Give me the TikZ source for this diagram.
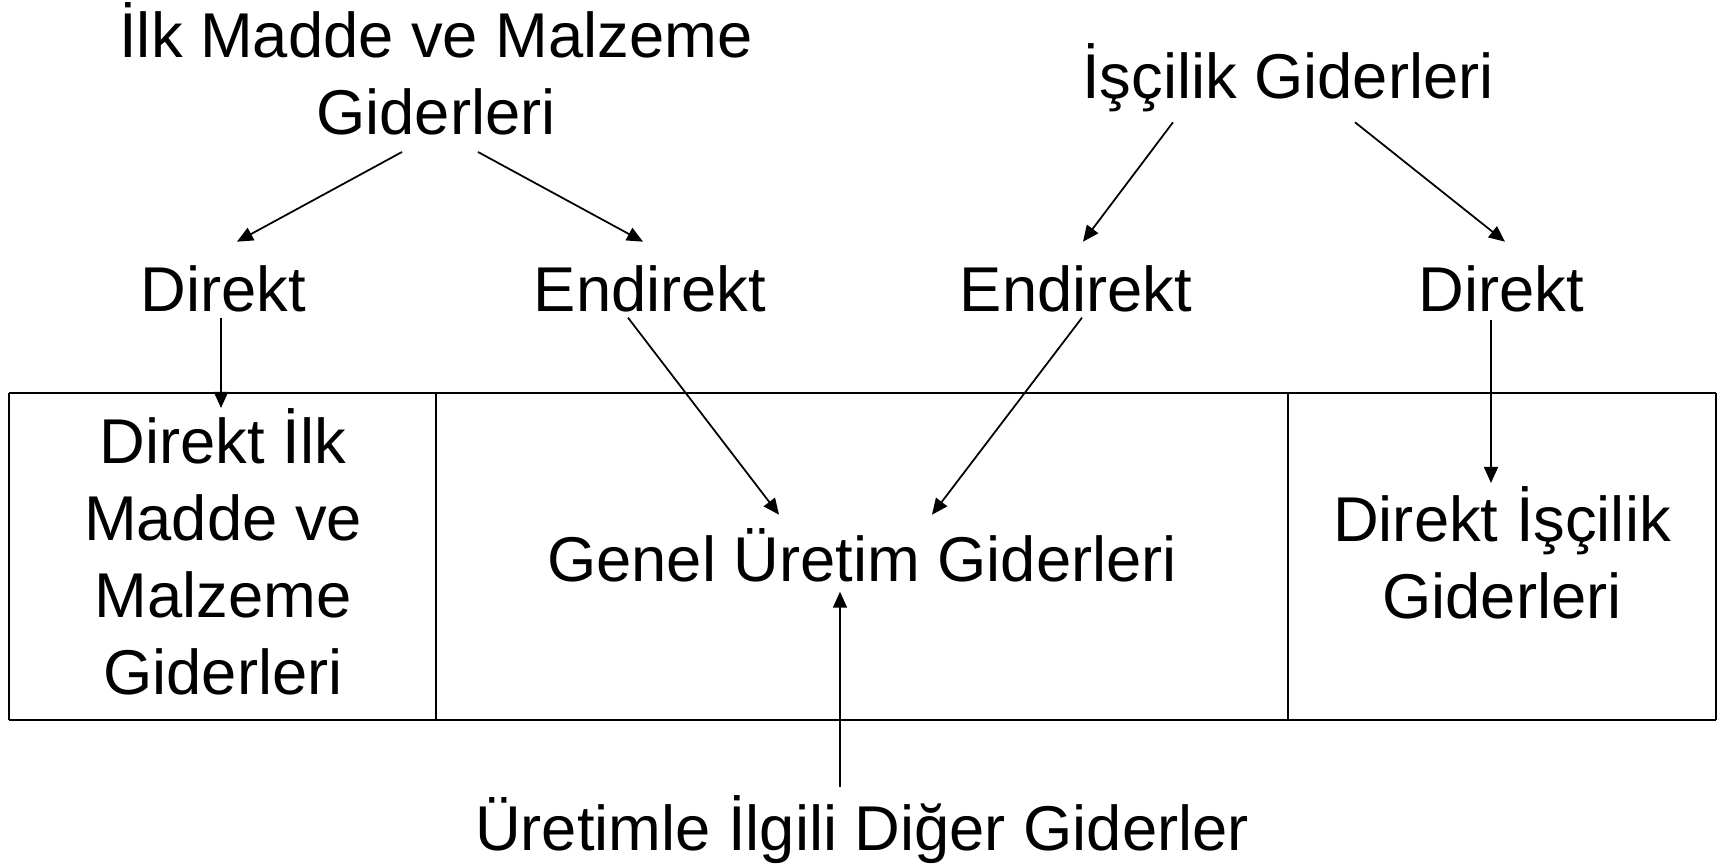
\documentclass[tikz,border=0pt]{standalone}
\usepackage{fontspec}
\setmainfont{Liberation Sans}
\usetikzlibrary{calc,arrows.meta}

\begin{document}
\begin{tikzpicture}[x=0.01cm,y=-0.01cm,
        lbl/.style={inner sep=0pt,font=\fontsize{18}{21.9}\selectfont,align=center},
        arr/.style={line width=0.5pt,-{Triangle[length=0.16cm,width=0.14cm]}}]
        \useasboundingbox (0,0) rectangle (1729,868);
        \node[lbl,anchor=south] (ilk) at (436,136) {İlk Madde ve Malzeme\\Giderleri};
        \node[lbl,anchor=base] (isc) at (1288,98.3) {İşçilik Giderleri};
        \node[lbl,anchor=base] (dirA) at (223,311.7) {Direkt};
        \node[lbl,anchor=base] (endA) at (650,311.7) {Endirekt};
        \node[lbl,anchor=base] (endB) at (1076,311.7) {Endirekt};
        \node[lbl,anchor=base] (dirB) at (1501,311.7) {Direkt};
        \draw[line width=0.5pt] (9,393) -- (9,720) (1716,393) -- (1716,720);
        \draw[line width=0.75pt] (9,393) -- (1716,393) (9,720) -- (1716,720);
        \foreach \x in {436,1288}
            \draw[line width=0.5pt] (\x,393) -- (\x,720);
        \node[lbl,anchor=south] (colA) at (223,696) {Direkt İlk\\Madde ve\\Malzeme\\Giderleri};
        \node[lbl,anchor=base] (genel) at (862,581.7) {Genel Üretim Giderleri};
        \node[lbl,anchor=south] (colC) at (1502,620) {Direkt İşçilik\\Giderleri};
        \node[lbl,anchor=base] (ure) at (862,850.7) {Üretimle İlgili Diğer Giderler};
        \draw[arr] ($(ilk.south)+(-34,16)$) -- ($(dirA.base)+(14,-70)$);
        \draw[arr] ($(ilk.south)+(42,16)$) -- ($(endA.base)+(-7,-70)$);
        \draw[arr] ($(isc.base)+(-115,24)$) -- ($(endB.base)+(7,-70)$);
        \draw[arr] ($(isc.base)+(67,24)$) -- ($(dirB.base)+(4,-70)$);
        \draw[arr] ($(dirA.base)+(-2,6)$) -- ($(colA.south)+(-2,-288)$);
        \draw[arr] ($(endA.base)+(-22,6)$) -- ($(genel.base)+(-83,-67)$);
        \draw[arr] ($(endB.base)+(6,6)$) -- ($(genel.base)+(70,-67)$);
        \draw[arr] ($(dirB.base)+(-10,8)$) -- ($(colC.south)+(-11,-137)$);
        \draw[arr] ($(ure.base)+(-22,-64)$) -- ($(genel.base)+(-22,10)$);
\end{tikzpicture}
\end{document}
